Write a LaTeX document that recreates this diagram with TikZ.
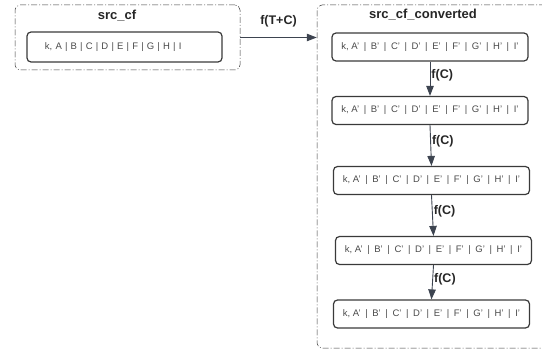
\documentclass[tikz,border=0pt]{standalone}
\usepackage{fontspec}
\setmainfont{Liberation Sans}
\usetikzlibrary{calc, positioning, arrows.meta}

\definecolor{linegray}{HTML}{3A3A3A}
\definecolor{arrowgray}{HTML}{3D4450}
\definecolor{textgray}{HTML}{4A4A4A}

% separator between the cells of a row
\newcommand{\cfsep}{\hspace{4.6pt}|\hspace{4.6pt}}

\tikzset{
    outerbox/.style={draw=linegray, dash pattern=on 6pt off 2pt on 1pt off 2pt, line width=0.5pt,
        rounded corners=5pt, inner sep=0pt},
    rowbox/.style={draw=linegray, line width=1.2pt, rounded corners=4pt, minimum width=196pt,
        minimum height=28pt, inner sep=0pt, text=textgray, font=\fontsize{9.5}{11}\selectfont},
    boxtitle/.style={font=\bfseries\fontsize{13}{15}\selectfont, text=black!85, inner sep=0pt},
    flabel/.style={font=\bfseries\fontsize{12.5}{14}\selectfont, text=black!85, inner sep=1pt},
    flow/.style={draw=arrowgray, line width=0.9pt, -{Triangle[length=10pt, width=7.5pt]}}
}

\begin{document}
\begin{tikzpicture}[x=1pt, y=-1pt]
    \useasboundingbox (0,0) rectangle (542,353);
    \clip (0,0) rectangle (542,353);
    % Source column family
    \node[outerbox, minimum width=225pt, minimum height=65pt] (srccf) at (127.5,37.5) {};
    \node[boxtitle] (srccftitle) at (117,16) {src\_cf};
    \node[rowbox, minimum width=195pt, minimum height=30pt, text width=159pt, align=left, inner xsep=18pt]
        (rowsrc) at (124.5,47) {k, A | B | C | D | E | F | G | H | I};
    % Converted column family
    \node[outerbox, minimum width=233pt, minimum height=343pt] (conv) at (433.5,176.5) {};
    \node[boxtitle] (convtitle) at (423,15) {src\_cf\_converted};
    % Converted rows
    \foreach \i/\x/\y in {1/430/47, 2/430/110.5, 3/431.5/180.5, 4/433.5/250.5, 5/431.5/314} {
        \node[rowbox] (row\i) at (\x,\y)
            {k, A'\cfsep B'\cfsep C'\cfsep D'\cfsep E'\cfsep F'\cfsep G'\cfsep H'\cfsep I'};
    }
    % Conversion arrows
    \draw[flow] (srccf.east) -- (srccf.east -| conv.west)
        node[flabel, midway, above=9pt] (ftc) {f(T+C)};
    \foreach \i/\j in {1/2, 2/3, 3/4, 4/5} {
        \draw[flow] (row\i.south) -- (row\j.north) node[flabel, pos=0.4, right] (fc\i) {f(C)};
    }
\end{tikzpicture}
\end{document}
